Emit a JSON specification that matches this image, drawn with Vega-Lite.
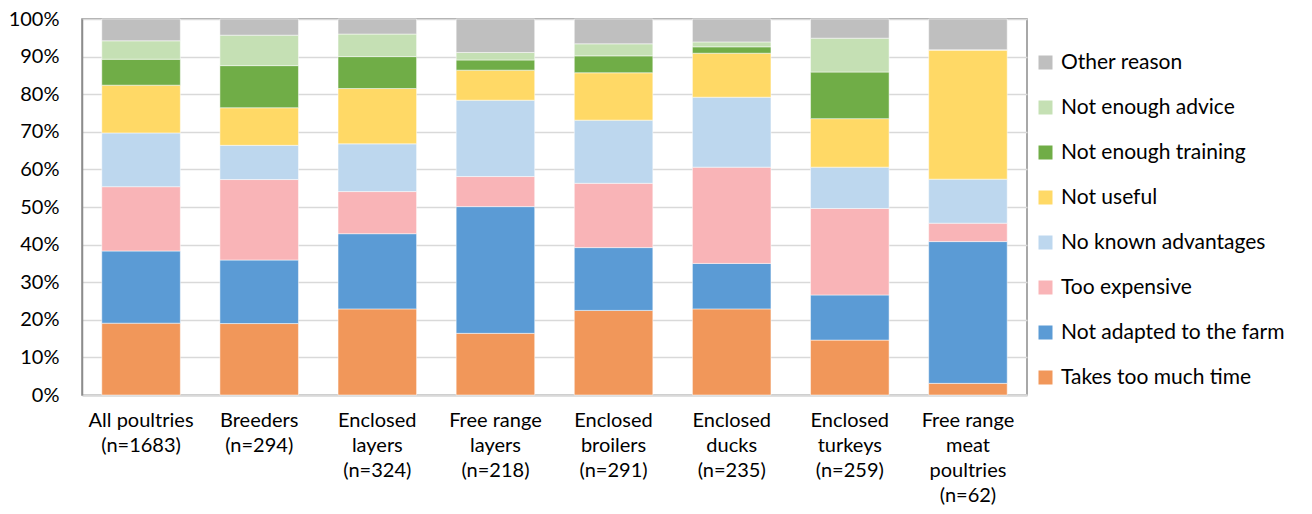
{
  "$schema": "https://vega.github.io/schema/vega-lite/v6.json",
  "autosize": {"type": "none"},
  "width": 945,
  "height": 376,
  "padding": {"left": 82, "top": 19, "right": 285, "bottom": 119},
  "background": "#ffffff",
  "config": {
    "font": "Lato",
    "view": {"stroke": "#8c8c8c", "strokeWidth": 1.5}
  },
  "data": {
    "values": [
      {"group": "All poultries|(n=1683)", "reason": "Takes too much time", "pct": 19.1},
      {"group": "All poultries|(n=1683)", "reason": "Not adapted to the farm", "pct": 19.2},
      {"group": "All poultries|(n=1683)", "reason": "Too expensive", "pct": 17.1},
      {"group": "All poultries|(n=1683)", "reason": "No known advantages", "pct": 14.3},
      {"group": "All poultries|(n=1683)", "reason": "Not useful", "pct": 12.7},
      {"group": "All poultries|(n=1683)", "reason": "Not enough training", "pct": 6.9},
      {"group": "All poultries|(n=1683)", "reason": "Not enough advice", "pct": 4.9},
      {"group": "All poultries|(n=1683)", "reason": "Other reason", "pct": 5.8},

      {"group": "Breeders|(n=294)", "reason": "Takes too much time", "pct": 19.0},
      {"group": "Breeders|(n=294)", "reason": "Not adapted to the farm", "pct": 16.9},
      {"group": "Breeders|(n=294)", "reason": "Too expensive", "pct": 21.4},
      {"group": "Breeders|(n=294)", "reason": "No known advantages", "pct": 9.1},
      {"group": "Breeders|(n=294)", "reason": "Not useful", "pct": 10.0},
      {"group": "Breeders|(n=294)", "reason": "Not enough training", "pct": 11.2},
      {"group": "Breeders|(n=294)", "reason": "Not enough advice", "pct": 8.1},
      {"group": "Breeders|(n=294)", "reason": "Other reason", "pct": 4.3},

      {"group": "Enclosed|layers|(n=324)", "reason": "Takes too much time", "pct": 22.9},
      {"group": "Enclosed|layers|(n=324)", "reason": "Not adapted to the farm", "pct": 20.0},
      {"group": "Enclosed|layers|(n=324)", "reason": "Too expensive", "pct": 11.2},
      {"group": "Enclosed|layers|(n=324)", "reason": "No known advantages", "pct": 12.7},
      {"group": "Enclosed|layers|(n=324)", "reason": "Not useful", "pct": 14.7},
      {"group": "Enclosed|layers|(n=324)", "reason": "Not enough training", "pct": 8.5},
      {"group": "Enclosed|layers|(n=324)", "reason": "Not enough advice", "pct": 6.0},
      {"group": "Enclosed|layers|(n=324)", "reason": "Other reason", "pct": 4.0},

      {"group": "Free range|layers|(n=218)", "reason": "Takes too much time", "pct": 16.4},
      {"group": "Free range|layers|(n=218)", "reason": "Not adapted to the farm", "pct": 33.7},
      {"group": "Free range|layers|(n=218)", "reason": "Too expensive", "pct": 8.0},
      {"group": "Free range|layers|(n=218)", "reason": "No known advantages", "pct": 20.3},
      {"group": "Free range|layers|(n=218)", "reason": "Not useful", "pct": 8.0},
      {"group": "Free range|layers|(n=218)", "reason": "Not enough training", "pct": 2.7},
      {"group": "Free range|layers|(n=218)", "reason": "Not enough advice", "pct": 2.0},
      {"group": "Free range|layers|(n=218)", "reason": "Other reason", "pct": 8.9},

      {"group": "Enclosed|broilers|(n=291)", "reason": "Takes too much time", "pct": 22.5},
      {"group": "Enclosed|broilers|(n=291)", "reason": "Not adapted to the farm", "pct": 16.7},
      {"group": "Enclosed|broilers|(n=291)", "reason": "Too expensive", "pct": 17.1},
      {"group": "Enclosed|broilers|(n=291)", "reason": "No known advantages", "pct": 16.8},
      {"group": "Enclosed|broilers|(n=291)", "reason": "Not useful", "pct": 12.6},
      {"group": "Enclosed|broilers|(n=291)", "reason": "Not enough training", "pct": 4.5},
      {"group": "Enclosed|broilers|(n=291)", "reason": "Not enough advice", "pct": 3.2},
      {"group": "Enclosed|broilers|(n=291)", "reason": "Other reason", "pct": 6.6},

      {"group": "Enclosed|ducks|(n=235)", "reason": "Takes too much time", "pct": 22.9},
      {"group": "Enclosed|ducks|(n=235)", "reason": "Not adapted to the farm", "pct": 12.1},
      {"group": "Enclosed|ducks|(n=235)", "reason": "Too expensive", "pct": 25.6},
      {"group": "Enclosed|ducks|(n=235)", "reason": "No known advantages", "pct": 18.6},
      {"group": "Enclosed|ducks|(n=235)", "reason": "Not useful", "pct": 11.7},
      {"group": "Enclosed|ducks|(n=235)", "reason": "Not enough training", "pct": 1.7},
      {"group": "Enclosed|ducks|(n=235)", "reason": "Not enough advice", "pct": 1.3},
      {"group": "Enclosed|ducks|(n=235)", "reason": "Other reason", "pct": 6.1},

      {"group": "Enclosed|turkeys|(n=259)", "reason": "Takes too much time", "pct": 14.6},
      {"group": "Enclosed|turkeys|(n=259)", "reason": "Not adapted to the farm", "pct": 12.0},
      {"group": "Enclosed|turkeys|(n=259)", "reason": "Too expensive", "pct": 23.0},
      {"group": "Enclosed|turkeys|(n=259)", "reason": "No known advantages", "pct": 11.0},
      {"group": "Enclosed|turkeys|(n=259)", "reason": "Not useful", "pct": 12.9},
      {"group": "Enclosed|turkeys|(n=259)", "reason": "Not enough training", "pct": 12.4},
      {"group": "Enclosed|turkeys|(n=259)", "reason": "Not enough advice", "pct": 9.0},
      {"group": "Enclosed|turkeys|(n=259)", "reason": "Other reason", "pct": 5.1},

      {"group": "Free range|meat|poultries|(n=62)", "reason": "Takes too much time", "pct": 3.1},
      {"group": "Free range|meat|poultries|(n=62)", "reason": "Not adapted to the farm", "pct": 37.7},
      {"group": "Free range|meat|poultries|(n=62)", "reason": "Too expensive", "pct": 4.9},
      {"group": "Free range|meat|poultries|(n=62)", "reason": "No known advantages", "pct": 11.7},
      {"group": "Free range|meat|poultries|(n=62)", "reason": "Not useful", "pct": 34.4},
      {"group": "Free range|meat|poultries|(n=62)", "reason": "Not enough training", "pct": 0},
      {"group": "Free range|meat|poultries|(n=62)", "reason": "Not enough advice", "pct": 0},
      {"group": "Free range|meat|poultries|(n=62)", "reason": "Other reason", "pct": 8.2}
    ]
  },
  "transform": [
    {"calculate": "indexof(['Takes too much time', 'Not adapted to the farm', 'Too expensive', 'No known advantages', 'Not useful', 'Not enough training', 'Not enough advice', 'Other reason'], datum.reason)", "as": "stackOrder"}
  ],
  "mark": {"type": "bar", "stroke": "#ffffff", "strokeWidth": 0.7, "strokeOpacity": 0.7},
  "encoding": {
    "x": {
      "field": "group",
      "type": "nominal",
      "sort": null,
      "scale": {"paddingInner": 0.335, "paddingOuter": 0.1675},
      "axis": {
        "title": null,
        "labelAngle": 0,
        "labelExpr": "split(datum.label, '|')",
        "labelFontSize": 20,
        "labelColor": "#000000",
        "labelLineHeight": 25,
        "labelPadding": 15,
        "labelBaseline": "top",
        "ticks": false,
        "domainColor": "#d9d9d9",
        "domainWidth": 2.5,
        "labelLimit": 0
      }
    },
    "y": {
      "field": "pct",
      "type": "quantitative",
      "stack": "zero",
      "scale": {"domain": [0, 100], "nice": false},
      "axis": {
        "title": null,
        "values": [0, 10, 20, 30, 40, 50, 60, 70, 80, 90, 100],
        "labelExpr": "datum.value + '%'",
        "labelFontSize": 20,
        "labelColor": "#000000",
        "labelPadding": 23,
        "ticks": false,
        "domain": true,
        "domainColor": "#8c8c8c",
        "domainWidth": 1.5,
        "grid": true,
        "gridColor": "#d9d9d9",
        "gridWidth": 1.5
      }
    },
    "order": {"field": "stackOrder", "type": "quantitative", "sort": "ascending"},
    "color": {
      "field": "reason",
      "type": "nominal",
      "scale": {
        "domain": ["Takes too much time", "Not adapted to the farm", "Too expensive", "No known advantages", "Not useful", "Not enough training", "Not enough advice", "Other reason"],
        "range": ["#f1975a", "#5b9bd5", "#f9b4b7", "#bdd7ee", "#ffd966", "#70ad47", "#c5e0b4", "#bfbfbf"]
      },
      "legend": {
        "title": null,
        "orient": "none",
        "legendX": 953,
        "legendY": 33,
        "values": ["Other reason", "Not enough advice", "Not enough training", "Not useful", "No known advantages", "Too expensive", "Not adapted to the farm", "Takes too much time"],
        "symbolType": "square",
        "symbolSize": 196,
        "symbolStrokeWidth": 0,
        "labelFontSize": 21,
        "labelColor": "#000000",
        "labelOffset": 5,
        "rowPadding": 23,
        "padding": 0,
        "labelLimit": 0
      }
    }
  }
}
